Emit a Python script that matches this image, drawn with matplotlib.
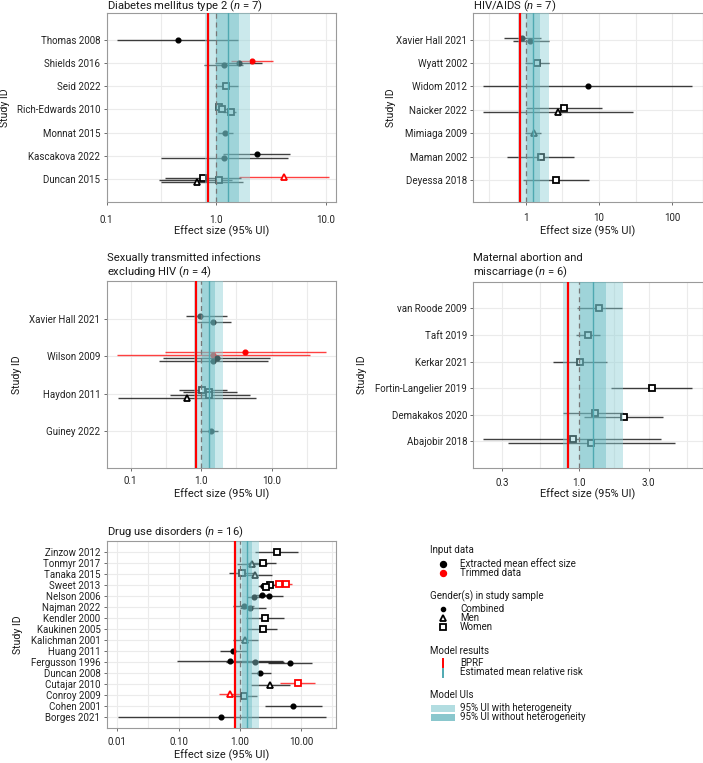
import numpy as np
import matplotlib
matplotlib.use("Agg")
import matplotlib.pyplot as plt
from matplotlib.patches import Rectangle

plt.rcParams['font.family'] = ['Roboto', 'DejaVu Sans']
plt.rcParams['mathtext.fontset'] = 'custom'
plt.rcParams['mathtext.it'] = 'Roboto:italic'
plt.rcParams['mathtext.rm'] = 'Roboto'

# ---------------- Data ----------------
# Diabetes mellitus type 2
dm_rows = ["Thomas 2008", "Shields 2016", "Seid 2022", "Rich-Edwards 2010",
           "Monnat 2015", "Kascakova 2022", "Duncan 2015"]
dm_study = ["Thomas 2008", "Shields 2016", "Shields 2016", "Shields 2016", "Seid 2022",
            "Rich-Edwards 2010", "Rich-Edwards 2010", "Rich-Edwards 2010", "Monnat 2015",
            "Kascakova 2022", "Kascakova 2022",
            "Duncan 2015", "Duncan 2015", "Duncan 2015", "Duncan 2015"]
dm_mean = [0.45, 2.13, 1.60, 1.17, 1.24, 1.07, 1.12, 1.37, 1.20, 2.35, 1.17, 4.12, 0.75, 1.06, 0.67]
dm_lower = [0.124, 1.37, 0.97, 0.78, 0.97, 0.98, 1.00, 1.15, 1.03, 1.15, 0.31, 1.61, 0.34, 0.30, 0.31]
dm_upper = [1.58, 3.33, 2.60, 1.76, 1.58, 1.17, 1.28, 1.50, 1.42, 4.75, 4.50, 10.6, 1.70, 1.40, 1.75]
dm_sex = ["Combined", "Combined", "Combined", "Combined", "Women", "Women", "Women", "Women",
          "Combined", "Combined", "Combined", "Men", "Women", "Women", "Men"]
dm_trim = [0, 1, 0, 0, 0, 0, 0, 0, 0, 0, 0, 1, 0, 0, 0]
dm_model = [0.84, 1.28, 1.00, 1.61, 0.785, 2.05]   # BPRF, mean, UI w/o het lo/hi, UI with het lo/hi

# HIV/AIDS
hiv_rows = ["Xavier Hall 2021", "Wyatt 2002", "Widom 2012", "Naicker 2022",
            "Mimiaga 2009", "Maman 2002", "Deyessa 2018"]
hiv_study = ["Xavier Hall 2021", "Xavier Hall 2021", "Wyatt 2002", "Widom 2012",
             "Naicker 2022", "Naicker 2022", "Mimiaga 2009", "Maman 2002", "Deyessa 2018"]
hiv_mean = [0.89, 1.16, 1.41, 7.0, 3.30, 2.80, 1.31, 1.60, 2.62]
hiv_lower = [0.50, 0.68, 0.98, 0.265, 1.00, 0.265, 0.98, 0.56, 0.93]
hiv_upper = [1.60, 2.10, 2.06, 183.0, 10.9, 28.7, 1.64, 4.56, 7.4]
hiv_sex = ["Combined", "Combined", "Women", "Combined", "Women", "Men", "Men", "Women", "Women"]
hiv_trim = [0, 0, 0, 0, 0, 0, 0, 0, 0]
hiv_model = [0.846, 1.27, 1.03, 1.57, 0.79, 2.08]

# Sexually transmitted infections excluding HIV
sti_rows = ["Xavier Hall 2021", "Wilson 2009", "Haydon 2011", "Guiney 2022"]
sti_study = ["Xavier Hall 2021", "Xavier Hall 2021",
             "Wilson 2009", "Wilson 2009", "Wilson 2009", "Wilson 2009",
             "Haydon 2011", "Haydon 2011", "Haydon 2011", "Haydon 2011", "Guiney 2022"]
sti_mean = [0.97, 1.49, 4.23, 1.49, 1.68, 1.49, 1.04, 1.30, 1.30, 0.62, 1.36]
sti_lower = [0.60, 0.86, 0.307, 0.063, 0.29, 0.25, 0.49, 0.55, 0.36, 0.067, 0.96]
sti_upper = [2.30, 2.62, 58.8, 35.0, 9.46, 9.0, 2.30, 3.20, 4.90, 5.9, 1.74]
sti_sex = ["Combined", "Combined", "Combined", "Combined", "Combined", "Combined",
           "Women", "Women", "Women", "Men", "Combined"]
sti_trim = [0, 0, 1, 1, 0, 0, 0, 0, 0, 0, 0]
sti_model = [0.84, 1.30, 1.03, 1.56, 0.80, 2.05]

# Maternal abortion and miscarriage
mat_rows = ["van Roode 2009", "Taft 2019", "Kerkar 2021", "Fortin-Langelier 2019",
            "Demakakos 2020", "Abajobir 2018"]
mat_study = ["van Roode 2009", "Taft 2019", "Kerkar 2021", "Fortin-Langelier 2019",
             "Demakakos 2020", "Demakakos 2020", "Abajobir 2018", "Abajobir 2018"]
mat_mean = [1.37, 1.15, 1.02, 3.15, 1.285, 2.04, 0.91, 1.21]
mat_lower = [0.97, 0.96, 0.665, 1.66, 0.786, 1.09, 0.224, 0.328]
mat_upper = [1.96, 1.40, 1.57, 5.9, 2.00, 3.78, 3.62, 4.54]
mat_sex = ["Women"] * 8
mat_trim = [0] * 8
mat_model = [0.84, 1.26, 1.02, 1.53, 0.785, 2.00]

# Drug use disorders
drug_rows = ["Zinzow 2012", "Tonmyr 2017", "Tanaka 2015", "Sweet 2013", "Nelson 2006",
             "Najman 2022", "Kendler 2000", "Kaukinen 2005", "Kalichman 2001", "Huang 2011",
             "Fergusson 1996", "Duncan 2008", "Cutajar 2010", "Conroy 2009", "Cohen 2001",
             "Borges 2021"]
drug_study = ["Zinzow 2012", "Tonmyr 2017", "Tonmyr 2017", "Tanaka 2015", "Tanaka 2015",
              "Sweet 2013", "Sweet 2013", "Sweet 2013", "Sweet 2013", "Sweet 2013", "Sweet 2013",
              "Nelson 2006", "Nelson 2006", "Nelson 2006", "Najman 2022", "Najman 2022",
              "Kendler 2000", "Kaukinen 2005", "Kalichman 2001", "Huang 2011",
              "Fergusson 1996", "Fergusson 1996", "Fergusson 1996", "Duncan 2008",
              "Cutajar 2010", "Cutajar 2010", "Conroy 2009", "Conroy 2009", "Cohen 2001",
              "Borges 2021"]
drug_mean = [3.96, 2.37, 1.57, 1.09, 1.78, 4.37, 5.56, 3.10, 2.60, 2.40, 2.70,
             2.29, 2.93, 1.70, 1.15, 1.47, 2.56, 2.34, 1.21, 0.78,
             0.695, 1.78, 6.53, 2.12, 8.70, 3.08, 0.687, 1.18, 7.40, 0.49]
drug_lower = [1.76, 1.37, 0.88, 0.67, 1.20, 3.60, 4.60, 2.50, 2.10, 1.95, 2.20,
              1.70, 2.00, 1.30, 0.78, 1.00, 1.25, 1.31, 0.78, 0.48,
              0.093, 0.60, 2.90, 1.50, 4.49, 1.49, 0.46, 0.78, 2.56, 0.0101]
drug_upper = [8.93, 3.86, 2.80, 1.75, 3.28, 5.40, 7.10, 3.80, 3.20, 2.95, 3.30,
              3.20, 5.10, 2.40, 1.70, 2.62, 5.15, 4.06, 2.00, 1.28,
              5.10, 5.20, 14.7, 3.16, 16.7, 6.50, 1.00, 1.87, 21.5, 25.2]
drug_sex = ["Women", "Women", "Men", "Women", "Men",
            "Women", "Women", "Women", "Combined", "Combined", "Women",
            "Combined", "Combined", "Combined", "Combined", "Combined",
            "Women", "Women", "Men", "Combined",
            "Combined", "Combined", "Combined", "Combined",
            "Women", "Men", "Men", "Women", "Combined", "Combined"]
drug_trim = [0, 0, 0, 0, 0, 1, 1, 0, 0, 0, 0, 0, 0, 0, 0, 0, 0, 0, 0, 0,
             0, 0, 0, 0, 1, 0, 1, 0, 0, 0]
drug_model = [0.84, 1.29, 1.06, 1.58, 0.80, 2.05]

# ---------------- Styling ----------------
W, H = 703, 763
fig = plt.figure(figsize=(W / 100, H / 100), dpi=100)

LIGHT = '#8ccfd5'
DARK = '#5fb5bd'
TEAL = '#4fa9b1'
GRID = '#ebebeb'
RED = '#ff0000'


def px_axes(left, top, right, bottom):
    return fig.add_axes([left / W, 1 - bottom / H, (right - left) / W, (bottom - top) / H])


def draw_panel(ax, rows, study, mean, lower, upper, sex, trim, model,
               xlim, ylim, ticks, ticklabels, minor, pad):
    n = len(rows)
    ax.set_xscale('log')
    ax.set_xlim(*xlim)
    ax.set_ylim(*ylim)
    ax.set_xticks(ticks)
    ax.set_xticklabels(ticklabels)
    ax.set_xticks(minor, minor=True)
    ax.tick_params(axis='x', which='minor', length=0)
    ax.set_yticks([n - i for i in range(n)])
    ax.set_yticklabels(rows)
    ax.tick_params(axis='both', which='major', length=2.5, width=0.6, color='#555555',
                   labelsize=7, labelcolor='#222222')
    ax.tick_params(axis='x', which='major', pad=pad)
    ax.tick_params(axis='y', which='major', pad=2)
    for t in list(ticks) + list(minor):
        ax.axvline(t, color=GRID, lw=0.8, zorder=0)
    for i in range(n):
        ax.axhline(n - i, color=GRID, lw=0.8, zorder=0)
    for sp in ax.spines.values():
        sp.set_color('#9a9a9a')
        sp.set_linewidth(0.8)

    w = 0.3
    for ri, r in enumerate(rows):
        idx = [i for i, s in enumerate(study) if s == r]
        k = len(idx)
        for j, i in enumerate(idx):
            y = (n - ri) + (w / 2 - w / k * (j + 0.5))
            col = RED if trim[i] else 'black'
            ax.plot([lower[i], upper[i]], [y, y], color=col, lw=1.0, alpha=0.75,
                    zorder=2, solid_capstyle='butt')
            if sex[i] == 'Combined':
                ax.plot(mean[i], y, 'o', ms=3.4, color=col, mec=col, zorder=3)
            elif sex[i] == 'Women':
                ax.plot(mean[i], y, 's', ms=4.0, mfc='white', mec=col, mew=1.3, zorder=3)
            else:
                ax.plot(mean[i], y, '^', ms=5.0, mfc='white', mec=col, mew=1.3, zorder=3)

    bprf, mu, nlo, nhi, hlo, hhi = model
    ax.axvspan(hlo, hhi, color=LIGHT, alpha=0.45, lw=0, zorder=5)
    ax.axvspan(nlo, nhi, color=DARK, alpha=0.40, lw=0, zorder=6)
    ax.axvline(1.0, color='#777777', lw=0.9, ls=(0, (4, 3)), zorder=7)
    ax.axvline(mu, color=TEAL, lw=1.0, zorder=8)
    ax.axvline(bprf, color=RED, lw=1.6, zorder=9)


ax1 = px_axes(106.7, 13.3, 336, 201.7)
draw_panel(ax1, dm_rows, dm_study, dm_mean, dm_lower, dm_upper, dm_sex, dm_trim, dm_model,
           (0.1, 12.4), (0.04, 8.13), [0.1, 1, 10], ["0.1", "1.0", "10.0"],
           [0.316, 3.16], 7.2)

ax2 = px_axes(473.3, 13.3, 702.7, 202.3)
draw_panel(ax2, hiv_rows, hiv_study, hiv_mean, hiv_lower, hiv_upper, hiv_sex, hiv_trim, hiv_model,
           (0.193, 259), (0.04, 8.13), [1, 10, 100], ["1", "10", "100"],
           [0.316, 3.16, 31.6], 5.5)

ax3 = px_axes(106.7, 281, 336, 467.7)
draw_panel(ax3, sti_rows, sti_study, sti_mean, sti_lower, sti_upper, sti_sex, sti_trim, sti_model,
           (0.0457, 81.6), (0.02, 5.02), [0.1, 1, 10], ["0.1", "1.0", "10.0"],
           [0.316, 3.16, 31.6], 3.4)

ax4 = px_axes(473.3, 281.7, 702.7, 467.7)
draw_panel(ax4, mat_rows, mat_study, mat_mean, mat_lower, mat_upper, mat_sex, mat_trim, mat_model,
           (0.191, 7.0), (0.01, 7.0), [0.3, 1, 3], ["0.3", "1.0", "3.0"],
           [0.548, 1.73, 5.48], 5.0)

ax5 = px_axes(106.7, 541, 336, 728.3)
draw_panel(ax5, drug_rows, drug_study, drug_mean, drug_lower, drug_upper, drug_sex, drug_trim,
           drug_model, (0.0067, 36.7), (0.0, 17.03), [0.01, 0.1, 1, 10],
           ["0.01", "0.10", "1.00", "10.00"], [0.0316, 0.316, 3.16, 31.6], 4.0)

# ---------------- Overlay (titles, labels, legend) ----------------
ov = fig.add_axes([0, 0, 1, 1])
ov.set_xlim(0, W)
ov.set_ylim(H, 0)
ov.axis('off')

TS = 8.1
tcol = '#1a1a1a'
titles = [(106.7, 9.3, "Diabetes mellitus type 2 ($n$ = 7)"),
          (473.3, 9.3, "HIV/AIDS ($n$ = 7)"),
          (106.7, 260.6, "Sexually transmitted infections"),
          (106.7, 275.0, "excluding HIV ($n$ = 4)"),
          (473.3, 260.6, "Maternal abortion and"),
          (473.3, 275.0, "miscarriage ($n$ = 6)"),
          (106.7, 535.0, "Drug use disorders ($n$ = 16)")]
for (x, y, s) in titles:
    ov.text(x, y, s, fontsize=TS, color=tcol, va='baseline', ha='left')

xl = "Effect size (95% UI)"
for (cx, cy) in [((106.7 + 336) / 2, 231.5), ((473.3 + 702.7) / 2, 231.5),
                 ((106.7 + 336) / 2, 494.5), ((473.3 + 702.7) / 2, 494.5),
                 ((106.7 + 336) / 2, 755.5)]:
    ov.text(cx, cy, xl, fontsize=7.9, color=tcol, ha='center', va='center')

for (cx, cy) in [(5.5, 107.5), (390.5, 107.8), (16.7, 374.3), (362, 374.7), (17.7, 634.7)]:
    ov.text(cx, cy, "Study ID", fontsize=7.6, color=tcol, ha='center', va='center', rotation=90)

# Legend
LS = 7.0
lx, mx, tx = 430, 443.3, 460
ov.text(lx, 550, "Input data", fontsize=LS, color=tcol, va='center')
ov.plot(mx, 563.7, 'o', ms=4.3, color='black')
ov.text(tx, 563.7, "Extracted mean effect size", fontsize=LS, color=tcol, va='center')
ov.plot(mx, 572.7, 'o', ms=4.3, color=RED)
ov.text(tx, 572.7, "Trimmed data", fontsize=LS, color=tcol, va='center')

ov.text(lx, 596.7, "Gender(s) in study sample", fontsize=LS, color=tcol, va='center')
ov.plot(mx, 608.7, 'o', ms=3.0, color='black')
ov.text(tx, 608.7, "Combined", fontsize=LS, color=tcol, va='center')
ov.plot(mx, 618, '^', ms=4.6, mfc='white', mec='black', mew=1.3)
ov.text(tx, 618, "Men", fontsize=LS, color=tcol, va='center')
ov.plot(mx, 627, 's', ms=3.8, mfc='white', mec='black', mew=1.3)
ov.text(tx, 627, "Women", fontsize=LS, color=tcol, va='center')

ov.text(lx, 650.7, "Model results", fontsize=LS, color=tcol, va='center')
ov.plot([mx, mx], [658.5, 666.5], color=RED, lw=1.4)
ov.text(tx, 662.7, "BPRF", fontsize=LS, color=tcol, va='center')
ov.plot([mx, mx], [668.5, 676.5], color=TEAL, lw=1.4)
ov.text(tx, 672.3, "Estimated mean relative risk", fontsize=LS, color=tcol, va='center')

ov.text(lx, 695.3, "Model UIs", fontsize=LS, color=tcol, va='center')
ov.add_patch(Rectangle((430.7, 704.5), 24.3, 7.5, facecolor='#b2dde1', edgecolor='none'))
ov.text(tx, 708.3, "95% UI with heterogeneity", fontsize=LS, color=tcol, va='center')
ov.add_patch(Rectangle((430.7, 713.5), 24.3, 7.5, facecolor='#8ac7cd', edgecolor='none'))
ov.text(tx, 717.3, "95% UI without heterogeneity", fontsize=LS, color=tcol, va='center')

fig.savefig("out.png", dpi=100)
